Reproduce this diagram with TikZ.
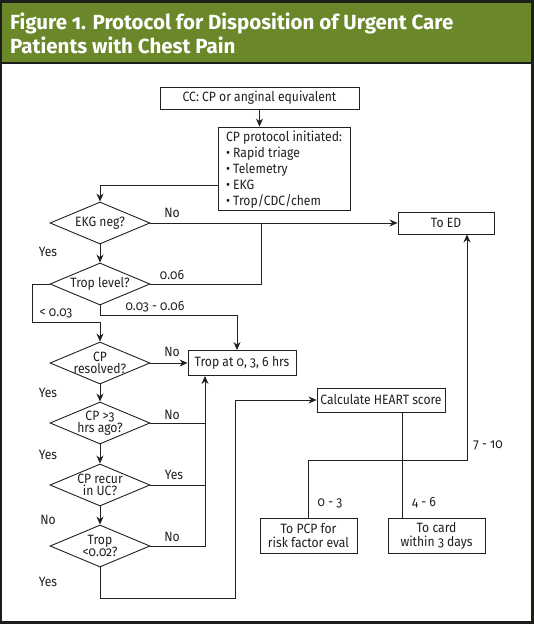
\documentclass[tikz,border=0pt]{standalone}
\usepackage{fontspec}
\setmainfont{Fira Sans}[Numbers=OldStyle, FakeStretch=0.9]
\newfontfamily\titlefont{Fira Sans}[Numbers=OldStyle]
\usetikzlibrary{shapes.geometric,arrows.meta}
\definecolor{titlegreen}{RGB}{106,136,42}
\definecolor{framedark}{RGB}{28,30,26}
\definecolor{inkdark}{RGB}{35,31,32}

\tikzset{
  box/.style={draw=inkdark, line width=0.9pt, minimum height=22pt, inner sep=0pt, align=center},
  dtext/.style={inner sep=0pt, align=center, font=\fontsize{13.5}{12.5}\selectfont},
  decision/.style={draw=inkdark, diamond, line width=0.9pt, minimum width=100pt,
    minimum height=42pt, inner sep=0pt, label={[dtext]center:#1}},
  flow/.style={draw=inkdark, line width=0.9pt, -{Stealth[length=8pt,width=7pt]}},
  link/.style={draw=inkdark, line width=0.9pt},
  lbl/.style={inner sep=0pt, text=inkdark},
}

\begin{document}
\begin{tikzpicture}[x=1pt, y=-1pt, font=\fontsize{13.5}{16}\selectfont, text=inkdark]
\useasboundingbox (0,0) rectangle (534,624);
\fill[framedark] (0,0) rectangle (534,624);
\fill[white] (2,3) rectangle (531,621);
\fill[titlegreen] (2,3) rectangle (531,62);
\draw[framedark, line width=1.5pt] (2,63) -- (531,63);
\node[anchor=base west, inner sep=0pt, text=white, font=\titlefont\bfseries\fontsize{20.5}{24}\selectfont] (title1) at (10,29) {Figure 1. Protocol for Disposition of Urgent Care};
\node[anchor=base west, inner sep=0pt, text=white, font=\titlefont\bfseries\fontsize{20.5}{24}\selectfont] (title2) at (10,53) {Patients with Chest Pain};

\node[box, minimum width=199pt] (cc) at (259.5,98) {CC: CP or anginal equivalent};
\node[box, minimum width=132pt, minimum height=83pt, align=left, text depth=1pt] (proto) at (284,168.5)
  {CP protocol initiated:\\ \textbullet\ Rapid triage\\ \textbullet\ Telemetry\\ \textbullet\ EKG\\ \textbullet\ Trop/CDC/chem};
\node[box, minimum width=96pt] (toed) at (446,223) {To ED};
\node[decision={EKG neg?}] (ekg) at (100,223) {};
\node[decision={Trop level?}] (trop) at (100,284) {};
\node[decision={CP\\resolved?}] (res) at (100,363) {};
\node[decision={CP >3\\hrs ago?}] (ago) at (100,423) {};
\node[decision={CP recur\\in UC?}] (recur) at (100,485) {};
\node[decision={Trop\\<0.02?}] (low) at (100,546) {};
\node[box, minimum width=108pt, minimum height=25pt] (tropbox) at (242,363) {Trop at 0, 3, 6 hrs};
\node[box, minimum width=128pt, minimum height=24pt] (heart) at (381,400) {Calculate HEART score};
\node[box, minimum width=97pt, minimum height=35pt, font=\fontsize{13.5}{14}\selectfont] (pcp) at (308.5,535.5) {To PCP for\\risk factor eval};
\node[box, minimum width=97pt, minimum height=35pt, font=\fontsize{13.5}{14}\selectfont] (card) at (436.5,535.5) {To card\\within 3 days};

\coordinate (split) at (261,223);
\coordinate (lowturn) at (32,322);
\coordinate (midturn) at (100,315);
\coordinate (backup) at (205,546);
\coordinate (yesturn) at (235,598);
\coordinate (edturn) at (467,460);

\draw[flow] (cc.south) -- (cc.south |- proto.north);
\draw[flow] ([yshift=-16.5pt]proto.west) -| (ekg.north);
\draw[flow] (ekg) -- (toed);
\draw[link] (trop.east) -| (split);
\draw[flow] (ekg) -- (trop);
\draw[flow] (trop.west) -| (lowturn) -| (res.north);
\draw[flow] (trop.south) -- (midturn) -| ([xshift=-5pt]tropbox.north);
\draw[flow] (res) -- (tropbox);
\draw[flow] (res) -- (ago);
\draw[flow] (ago) -- (recur);
\draw[flow] (recur) -- (low);
\draw[link] (ago.east) -- (ago.east -| backup);
\draw[link] (recur.east) -- (recur.east -| backup);
\draw[flow] (low.east) -- (backup) -- (backup |- tropbox.south);
\draw[flow] (low.south) |- (yesturn) |- (heart.west);
\draw[link] ([xshift=21pt]heart.south) -- ([xshift=21pt]heart.south |- card.north);
\draw[flow] (pcp.north) |- (edturn) -- (edturn |- toed.south);

\node[lbl] (noEkg) at (172,213) {No};
\node[lbl] (yesEkg) at (48,252) {Yes};
\node[lbl] (hiTrop) at (172,275) {0.06};
\node[lbl] (loTrop) at (56,313) {< 0.03};
\node[lbl] (midTrop) at (155,307) {0.03 - 0.06};
\node[lbl] (noRes) at (172,352) {No};
\node[lbl] (yesRes) at (48,393) {Yes};
\node[lbl] (noAgo) at (172,415) {No};
\node[lbl] (yesAgo) at (48,455) {Yes};
\node[lbl] (yesRecur) at (174,475) {Yes};
\node[lbl] (noRecur) at (48,520) {No};
\node[lbl] (noLow) at (172,537) {No};
\node[lbl] (yesLow) at (48,582) {Yes};
\node[lbl] (hiHeart) at (488,445) {7 - 10};
\node[lbl] (loHeart) at (330,503) {0 - 3};
\node[lbl] (midHeart) at (424,503) {4 - 6};
\end{tikzpicture}
\end{document}
